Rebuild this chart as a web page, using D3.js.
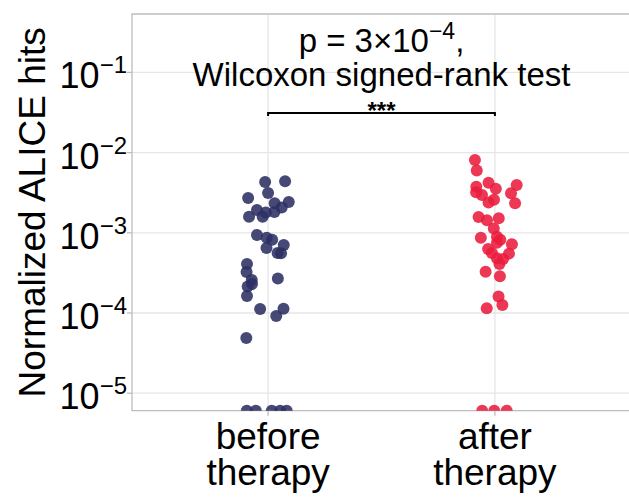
<!DOCTYPE html>
<html>
<head>
<meta charset="utf-8">
<script src="https://cdn.jsdelivr.net/npm/d3@7"></script>
<style>
  html, body { margin: 0; padding: 0; background: #fff; }
  svg { display: block; font-family: "Liberation Sans", Arial, Helvetica, sans-serif; }
</style>
</head>
<body>
<svg id="chart" width="629" height="497"></svg>
<script>
// ---- data ----
const categories = ["before therapy", "after therapy"];
const categoryLines = [["before", "therapy"], ["after", "therapy"]];

// Normalized ALICE hits per patient (0 = no hits, drawn at the bottom edge)
const beforeValues = [4.30e-3, 4.38e-3, 3.13e-3, 2.72e-3, 2.33e-3, 2.42e-3, 1.92e-3, 2.07e-3, 1.79e-3, 1.82e-3,
  1.59e-3, 1.59e-3, 9.4e-4, 8.7e-4, 8.2e-4, 6.45e-4, 7.05e-4, 5.6e-4, 5.55e-4, 4.08e-4,
  3.24e-4, 2.58e-4, 2.69e-4, 2.30e-4, 2.14e-4, 1.63e-4, 1.12e-4, 1.13e-4, 9.2e-5, 4.88e-5,
  0, 0, 0, 0, 0];
const afterValues = [8.1e-3, 5.98e-3, 4.22e-3, 3.76e-3, 3.55e-3, 3.94e-3, 3.20e-3, 2.96e-3, 3.11e-3, 2.59e-3,
  2.39e-3, 2.33e-3, 1.57e-3, 1.43e-3, 1.52e-3, 1.13e-3, 8.7e-4, 8.9e-4, 8.2e-4, 7.5e-4,
  7.2e-4, 6.3e-4, 5.6e-4, 5.5e-4, 4.8e-4, 4.7e-4, 4.08e-4, 3.27e-4, 2.88e-4, 1.61e-4,
  1.26e-4, 1.15e-4, 0, 0, 0];
// horizontal jitter (fraction of category step)
const beforeJitter = [-0.013, 0.075, 0.000, -0.088, 0.029, 0.091, -0.049, 0.060, -0.010, 0.028,
  -0.084, -0.024, -0.049, -0.006, 0.018, -0.007, 0.069, 0.042, 0.057, -0.093,
  -0.095, -0.072, 0.043, -0.071, -0.090, -0.093, -0.035, 0.068, 0.036, -0.096,
  -0.094, -0.054, 0.016, 0.053, 0.082];
const afterJitter = [-0.088, -0.080, -0.028, -0.082, 0.004, 0.096, -0.083, -0.057, 0.071, -0.004,
  -0.028, 0.089, -0.072, -0.035, 0.017, -0.005, -0.062, 0.009, 0.024, 0.009,
  0.075, -0.030, -0.013, 0.062, 0.009, 0.036, 0.020, -0.041, 0.022, 0.016,
  0.033, -0.036, -0.056, -0.003, 0.052];

const yTickExponents = [-5, -4, -3, -2, -1];
const yTitle = "Normalized ALICE hits";
const annotationLine1 = "p = 3×10";
const annotationExp = "−4";
const annotationLine2 = "Wilcoxon signed-rank test";
const significance = "***";

// ---- layout ----
const W = 629, H = 497;
const panel = { left: 132, right: 631, top: 14, bottom: 410.7 };
const colors = ["#2c2f63", "#ea1d3d"];

const svg = d3.select("#chart");

const x = d3.scalePoint().domain(categories).range([panel.left, panel.right]).padding(0.6);
const step = x.step();
const logMin = -5.218, logMax = -0.272;
const y = d3.scaleLog().domain([Math.pow(10, logMin), Math.pow(10, logMax)]).range([panel.bottom, panel.top]);

// clip
svg.append("defs").append("clipPath").attr("id", "clip")
  .append("rect").attr("x", panel.left).attr("y", panel.top)
  .attr("width", panel.right - panel.left).attr("height", panel.bottom - panel.top);

// gridlines
const grid = svg.append("g");
grid.selectAll("line.h").data(yTickExponents).join("line")
  .attr("x1", panel.left).attr("x2", panel.right)
  .attr("y1", d => y(Math.pow(10, d))).attr("y2", d => y(Math.pow(10, d)))
  .attr("stroke", "#e6e6e6").attr("stroke-width", 1.3);
grid.selectAll("line.v").data(categories).join("line")
  .attr("x1", d => x(d)).attr("x2", d => x(d))
  .attr("y1", panel.top).attr("y2", panel.bottom)
  .attr("stroke", "#e6e6e6").attr("stroke-width", 1.3);

// border (left, top, bottom)
svg.append("path")
  .attr("d", `M${panel.right},${panel.top}H${panel.left}V${panel.bottom}H${panel.right}`)
  .attr("fill", "none").attr("stroke", "#bdbdbd").attr("stroke-width", 1.3);

// y axis ticks & labels
const yAxis = svg.append("g");
yTickExponents.forEach(e => {
  const yy = y(Math.pow(10, e));
  yAxis.append("line").attr("x1", panel.left - 5).attr("x2", panel.left)
    .attr("y1", yy).attr("y2", yy).attr("stroke", "#bdbdbd").attr("stroke-width", 1.3);
  const t = yAxis.append("text").attr("x", 127).attr("y", yy + 16)
    .attr("text-anchor", "end").attr("font-size", 36).attr("fill", "#000");
  t.append("tspan").text("10");
  t.append("tspan").attr("dy", -15).attr("font-size", 24).text("−" + Math.abs(e));
});

// x axis ticks & labels
const xAxis = svg.append("g");
categories.forEach((c, i) => {
  const xx = x(c);
  xAxis.append("line").attr("x1", xx).attr("x2", xx)
    .attr("y1", panel.bottom).attr("y2", panel.bottom + 5)
    .attr("stroke", "#bdbdbd").attr("stroke-width", 1.3);
  const t = xAxis.append("text").attr("text-anchor", "middle").attr("font-size", 37).attr("fill", "#000");
  categoryLines[i].forEach((ln, k) => {
    t.append("tspan").attr("x", xx).attr("y", 449 + k * 36).text(ln);
  });
});

// y title
svg.append("text")
  .attr("transform", `translate(45,${(panel.top + panel.bottom) / 2}) rotate(-90)`)
  .attr("text-anchor", "middle").attr("font-size", 37).attr("fill", "#000")
  .text(yTitle);

// points
const series = [
  { cat: categories[0], values: beforeValues, jitter: beforeJitter, color: colors[0] },
  { cat: categories[1], values: afterValues, jitter: afterJitter, color: colors[1] }
];
const pts = svg.append("g").attr("clip-path", "url(#clip)");
series.forEach(s => {
  const data = s.values.map((v, i) => ({ v, j: s.jitter[i] }));
  pts.selectAll(null).data(data).join("circle")
    .attr("cx", d => x(s.cat) + d.j * step)
    .attr("cy", d => d.v > 0 ? y(d.v) : panel.bottom)
    .attr("r", 6)
    .attr("fill", s.color).attr("fill-opacity", 0.88);
});

// significance bracket
const bx1 = x(categories[0]), bx2 = x(categories[1]);
const by = 113;
svg.append("path")
  .attr("d", `M${bx1},${by + 3}V${by}H${bx2}V${by + 3}`)
  .attr("fill", "none").attr("stroke", "#000").attr("stroke-width", 2);
svg.append("text").attr("x", (bx1 + bx2) / 2).attr("y", 119)
  .attr("text-anchor", "middle").attr("font-size", 24).attr("font-weight", "bold").text(significance);

// annotation
const ann = svg.append("text").attr("x", (bx1 + bx2) / 2).attr("y", 52)
  .attr("text-anchor", "middle").attr("font-size", 33).attr("fill", "#000");
ann.append("tspan").text(annotationLine1);
ann.append("tspan").attr("dy", -13).attr("font-size", 23).text(annotationExp);
ann.append("tspan").attr("dy", 13).text(",");
svg.append("text").attr("x", (bx1 + bx2) / 2).attr("y", 86)
  .attr("text-anchor", "middle").attr("font-size", 33).attr("fill", "#000")
  .text(annotationLine2);
</script>
</body>
</html>
